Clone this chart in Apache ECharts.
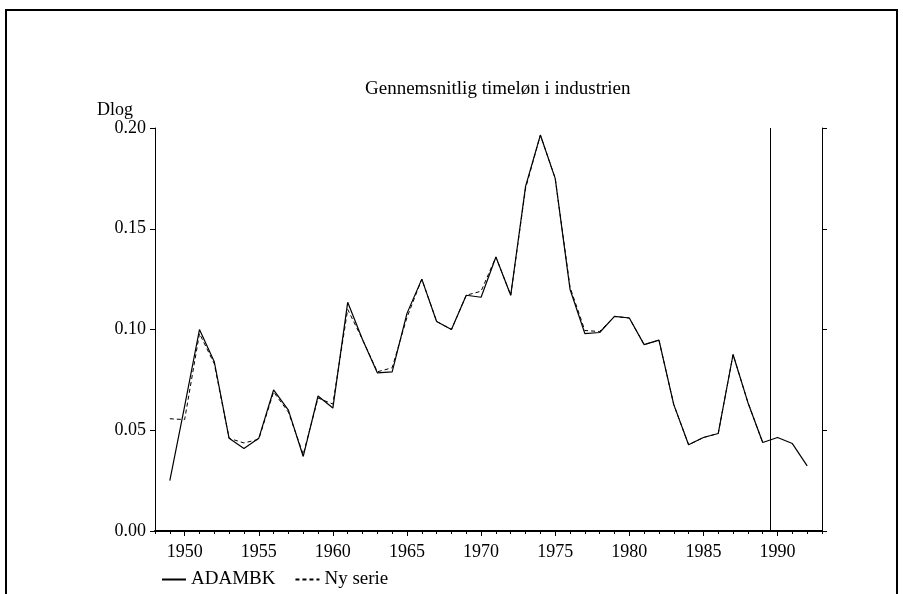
<!DOCTYPE html>
<html>
<head>
<meta charset="utf-8">
<script src="https://cdn.jsdelivr.net/npm/echarts@6/dist/echarts.min.js"></script>
<style>
  html, body { margin: 0; padding: 0; background: #fff; }
  #chart { width: 903px; height: 594px; }
</style>
</head>
<body>
<div id="chart"></div>
<script>
const years = [1949, 1950, 1951, 1952, 1953, 1954, 1955, 1956, 1957, 1958, 1959, 1960,
    1961, 1962, 1963, 1964, 1965, 1966, 1967, 1968, 1969, 1970, 1971, 1972, 1973, 1974,
    1975, 1976, 1977, 1978, 1979, 1980, 1981, 1982, 1983, 1984, 1985, 1986, 1987, 1988,
    1989, 1990, 1991, 1992]
const adambk = [0.025, 0.062, 0.100, 0.084, 0.046, 0.041, 0.046, 0.070, 0.060, 0.037, 0.067, 0.061,
    0.1135, 0.095, 0.0785, 0.079, 0.108, 0.125, 0.104, 0.100, 0.117, 0.116, 0.136, 0.117, 0.171, 0.1965,
    0.175, 0.120, 0.098, 0.0985, 0.1065, 0.1057, 0.0925, 0.0947, 0.0627, 0.0428, 0.0464, 0.0484, 0.0876, 0.0638,
    0.0439, 0.0464, 0.0434, 0.0323]
const nySerie = [0.0557, 0.0553, 0.098, 0.083, 0.046, 0.0437, 0.0455, 0.069, 0.059, 0.038, 0.066, 0.063,
    0.110, 0.095, 0.079, 0.081, 0.106, 0.125, 0.104, 0.100, 0.117, 0.119, 0.136, 0.117, 0.170, 0.1965,
    0.175, 0.121, 0.0995, 0.099, 0.1065, 0.1057, 0.0925, 0.0947, 0.0627, 0.0428, 0.0464, 0.0484, 0.0876, 0.0638,
    0.0439]
const yearLabels = [1950, 1955, 1960, 1965, 1970, 1975, 1980, 1985, 1990]
const cutYear = 1989.5

const font = '"Liberation Serif", "DejaVu Serif", serif'
const xMin = 1948, xMax = 1993
const minorTicks = []
for (let y = xMin; y <= xMax; y++) minorTicks.push(y)

const chart = echarts.init(document.getElementById('chart'))
chart.setOption({
    animation: false,
    textStyle: { fontFamily: font, color: '#000' },
    title: {
        text: 'Gennemsnitlig timeløn i industrien',
        left: 360, top: 75,
        textStyle: { fontFamily: font, fontSize: 19, fontWeight: 'normal', color: '#000' }
    },
    graphic: [{
        type: 'rect',
        shape: { x: 6, y: 10, width: 891, height: 600 },
        style: { fill: 'none', stroke: '#000', lineWidth: 2 }
    }],
    legend: {
        left: 156, top: 565,
        itemWidth: 24, itemHeight: 10, itemGap: 19,
        itemStyle: { opacity: 0 },
        textStyle: { fontFamily: font, fontSize: 19, color: '#000' },
        data: ['ADAMBK', 'Ny serie']
    },
    grid: { left: 155, right: 81, top: 128, bottom: 63 },
    xAxis: [{
        type: 'value', min: xMin, max: xMax,
        axisLine: { lineStyle: { color: '#000', width: 2 } },
        axisTick: { length: 5, lineStyle: { color: '#000' }, customValues: yearLabels },
        axisLabel: { customValues: yearLabels, fontFamily: font, fontSize: 18, color: '#000', margin: 12,
            formatter: v => String(v) },
        splitLine: { show: false }
    }, {
        type: 'value', min: xMin, max: xMax, position: 'bottom',
        axisLine: { show: false },
        axisTick: { length: 3, lineStyle: { color: '#000' }, customValues: minorTicks },
        axisLabel: { show: false },
        splitLine: { show: false }
    }],
    yAxis: [{
        type: 'value', min: 0, max: 0.2, interval: 0.05,
        name: 'Dlog', nameGap: 2,
        nameTextStyle: { fontFamily: font, fontSize: 18, color: '#000', align: 'right', padding: [0, 22, -13, 0] },
        axisLine: { show: true, lineStyle: { color: '#000' } },
        axisTick: { show: true, length: 5, lineStyle: { color: '#000' } },
        axisLabel: { fontFamily: font, fontSize: 18, color: '#000', margin: 9, formatter: v => v.toFixed(2) },
        splitLine: { show: false }
    }, {
        type: 'value', min: 0, max: 0.2, interval: 0.05, position: 'right',
        axisLine: { show: true, lineStyle: { color: '#000' } },
        axisTick: { show: true, length: 5, lineStyle: { color: '#000' } },
        axisLabel: { show: false },
        splitLine: { show: false }
    }],
    series: [{
        name: 'ADAMBK', type: 'line', symbol: 'none',
        color: '#000',
        lineStyle: { color: '#000', width: 1.2 },
        data: years.map((y, i) => [y, adambk[i]]),
        markLine: {
            silent: true, symbol: 'none', label: { show: false },
            lineStyle: { color: '#000', width: 1, type: 'solid' },
            data: [{ xAxis: cutYear }]
        }
    }, {
        name: 'Ny serie', type: 'line', symbol: 'none',
        color: '#000',
        lineStyle: { color: '#000', width: 1, type: [4, 3] },
        data: nySerie.map((v, i) => [years[i], v])
    }]
})
</script>
</body>
</html>
